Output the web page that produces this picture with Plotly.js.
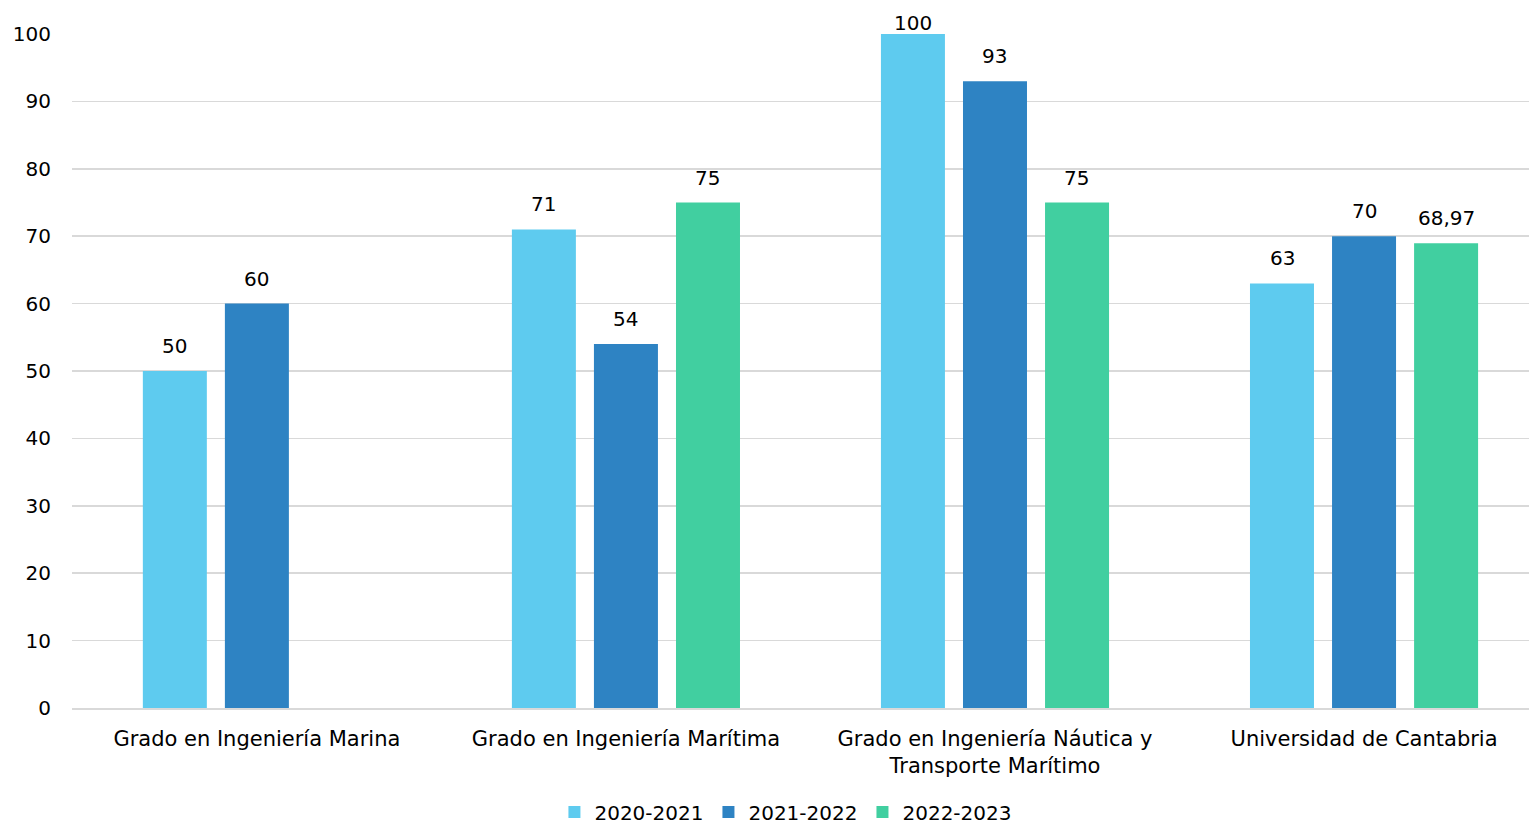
<!DOCTYPE html>
<html><head><meta charset="utf-8">
<script src="https://cdn.plot.ly/plotly-3.0.1.min.js"></script>
<style>html,body{margin:0;padding:0;background:#fff}#c{width:1529px;height:829px}</style>
</head><body><div id="c"></div>
<script>
const categories = ["Grado en Ingeniería Marina", "Grado en Ingeniería Marítima", "Grado en Ingeniería Náutica y<br>Transporte Marítimo", "Universidad de Cantabria"];
const seriesNames = ["2020-2021", "2021-2022", "2022-2023"];
const s2020 = [50, 71, 100, 63];
const s2021 = [60, 54, 93, 70];
const s2022 = [null, 75, 75, 68.97];
const yTicks = [0, 10, 20, 30, 40, 50, 60, 70, 80, 90, 100];
const colors = ["#5ECBEF", "#2E83C3", "#41CFA0"];

const fmt = v => v === null ? "" : String(v).replace(".", ",");
const font = {family: "DejaVu Sans, Verdana, sans-serif", size: 20, color: "#000"};
const catFont = {family: "DejaVu Sans, Verdana, sans-serif", size: 21, color: "#000"};

const series = [s2020, s2021, s2022];
const data = series.map((vals, i) => ({
  type: "bar", x: categories, y: vals, name: seriesNames[i],
  marker: {color: colors[i]}, hoverinfo: "x+y"
}));

// value labels above bars, offset per series slot (82 px); labels at the axis top are tucked lower
const annotations = [];
series.forEach((vals, i) => {
  vals.forEach((v, j) => {
    if (v === null) return;
    annotations.push({x: categories[j], y: v, xref: "x", yref: "y", text: fmt(v),
      showarrow: false, xanchor: "center", yanchor: "bottom",
      xshift: (i - 1) * 82, yshift: v >= 100 ? -3 : 11, font: font});
  });
});

const layout = {
  width: 1529, height: 829,
  margin: {l: 72, r: 0, t: 34, b: 121},
  barmode: "group", bargap: 0.333, bargroupgap: 0.22,
  paper_bgcolor: "#fff", plot_bgcolor: "#fff",
  font: font,
  annotations: annotations,
  xaxis: {tickfont: catFont, showline: true, linecolor: "#d9d9d9", linewidth: 1.5, ticks: "",
          range: [-0.501, 3.447], ticklabelstandoff: 11, fixedrange: true, automargin: false},
  yaxis: {range: [0, 100], tickvals: yTicks, tickfont: font, gridcolor: "#d9d9d9", gridwidth: 1.5,
          zeroline: false, showline: false, ticks: "", ticklabelstandoff: 20, fixedrange: true, automargin: false},
  legend: {orientation: "h", x: 0.490, xanchor: "center", yref: "container", y: 0.044, yanchor: "top", font: font,
           itemwidth: 30, traceorder: "normal"},
  showlegend: true
};
Plotly.newPlot("c", data, layout, {displayModeBar: false, staticPlot: true});
</script></body></html>
